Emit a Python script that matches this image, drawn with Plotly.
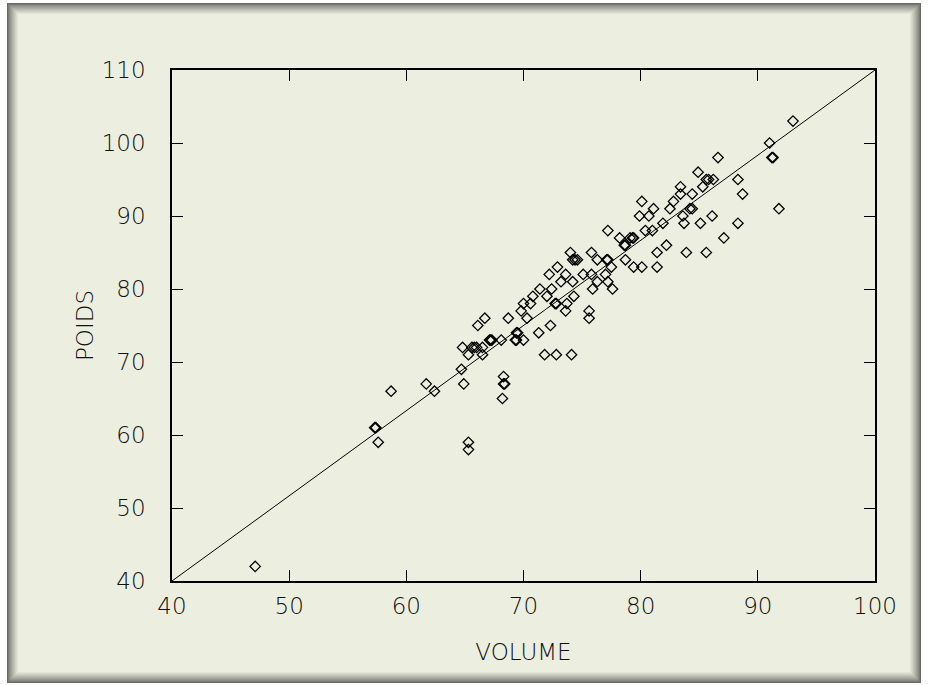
import plotly.graph_objects as go

# Data
volume = [47.1, 57.4, 57.3, 57.6, 58.7, 61.7, 62.4, 64.7, 64.9, 64.8, 65.3, 65.6, 65.8, 66.0,
          66.5, 66.5, 65.3, 65.3, 66.1, 66.7, 67.1, 67.2, 67.3, 68.1, 68.7, 68.3, 68.3, 68.4,
          68.2, 69.4, 69.5, 69.3, 69.4, 70.0, 70.3, 69.8, 70.0, 70.6, 70.8, 71.4, 72.0, 72.4,
          72.2, 72.9, 73.2, 73.6, 72.7, 72.8, 73.7, 73.6, 74.3, 74.2, 71.3, 72.3, 71.8, 72.8,
          74.1, 75.6, 75.6, 75.1, 75.8, 75.9, 76.3, 77.0, 77.2, 77.6, 77.5, 74.2, 74.4, 74.6,
          74.0, 76.3, 77.1, 77.2, 75.8, 77.2, 78.2, 79.1, 79.3, 79.4, 78.6, 78.7, 80.4, 81.0,
          81.4, 81.4, 80.1, 79.4, 78.7, 79.9, 80.7, 80.1, 81.1, 81.9, 82.2, 82.5, 82.8, 83.4,
          83.4, 83.6, 83.7, 83.9, 84.4, 84.2, 84.4, 84.9, 85.3, 85.6, 85.8, 86.2, 85.6, 85.1,
          86.1, 86.6, 87.1, 88.3, 88.7, 88.3, 91.0, 91.2, 91.3, 91.8, 93.0]
poids = [42, 61, 61, 59, 66, 67, 66, 69, 67, 72, 71, 72, 72, 72,
         72, 71, 59, 58, 75, 76, 73, 73, 73, 73, 76, 68, 67, 67,
         65, 74, 74, 73, 73, 73, 76, 77, 78, 78, 79, 80, 79, 80,
         82, 83, 81, 82, 78, 78, 78, 77, 79, 81, 74, 75, 71, 71,
         71, 77, 76, 82, 82, 80, 81, 82, 81, 80, 83, 84, 84, 84,
         85, 84, 84, 84, 85, 88, 87, 87, 87, 87, 86, 86, 88, 88,
         85, 83, 83, 83, 84, 90, 90, 92, 91, 89, 86, 91, 92, 93,
         94, 90, 89, 85, 93, 91, 91, 96, 94, 95, 95, 95, 85, 89,
         90, 98, 87, 95, 93, 89, 100, 98, 98, 91, 103]
line_x = [40, 100]
line_y = [40, 110]
x_ticks = [40, 50, 60, 70, 80, 90, 100]
y_ticks = [40, 50, 60, 70, 80, 90, 100, 110]

W, H = 928, 685
ML, MR, MT, MB = 172, 53, 70, 104
PW, PH = W - ML - MR, H - MT - MB


def px2paper(x0, y0, x1, y1):
    return dict(x0=(x0 - ML) / PW, x1=(x1 - ML) / PW,
                y0=(H - MB - y0) / PH, y1=(H - MB - y1) / PH)


cream = (236, 239, 224)
dark = (105, 105, 100)
shapes = []
outer = (6, 3, 921, 684)
n = 12
for i in range(n):
    t = (i / (n - 1)) ** 0.8
    c = tuple(int(dark[k] + (cream[k] - dark[k]) * t) for k in range(3))
    x0, y0, x1, y1 = outer
    shapes.append(dict(type="rect", xref="paper", yref="paper", layer="below",
                       line=dict(width=0), fillcolor="rgb(%d,%d,%d)" % c,
                       **px2paper(x0 + i + 1, y0 + i, x1 - i, y1 - i - 1)))

fig = go.Figure()
fig.add_trace(go.Scatter(x=line_x, y=line_y, mode="lines",
                         line=dict(color="black", width=1), hoverinfo="skip",
                         showlegend=False))
fig.add_trace(go.Scatter(x=volume, y=poids, mode="markers",
                         marker=dict(symbol="diamond-open", size=8,
                                     color="black", line=dict(width=1.3, color="black")),
                         showlegend=False))

tick_font = dict(family="DejaVu Sans, Liberation Sans, sans-serif", size=23,
                 color="#111", weight=200)
title_font = dict(family="DejaVu Sans, Liberation Sans, sans-serif", size=23,
                  color="#111", weight=200)
fig.update_layout(
    width=W, height=H,
    margin=dict(l=ML, r=MR, t=MT, b=MB, pad=0),
    paper_bgcolor="white",
    plot_bgcolor="rgba(0,0,0,0)",
    shapes=shapes,
    xaxis=dict(range=[40, 100], tickvals=x_ticks, ticks="inside", ticklen=11,
               tickwidth=1, tickcolor="black", showline=True, linecolor="black",
               linewidth=1.5, mirror="ticks", showgrid=False, zeroline=False,
               tickfont=tick_font, ticklabelstandoff=4,
               title=dict(text="VOLUME", font=title_font, standoff=26)),
    yaxis=dict(range=[40, 110], tickvals=y_ticks, ticks="inside", ticklen=11,
               tickwidth=1, tickcolor="black", showline=True, linecolor="black",
               linewidth=1.5, mirror="ticks", showgrid=False, zeroline=False,
               tickfont=tick_font, ticklabelstandoff=20,
               title=dict(text="POIDS", font=title_font, standoff=2)),
)

fig.write_html("out.html")
